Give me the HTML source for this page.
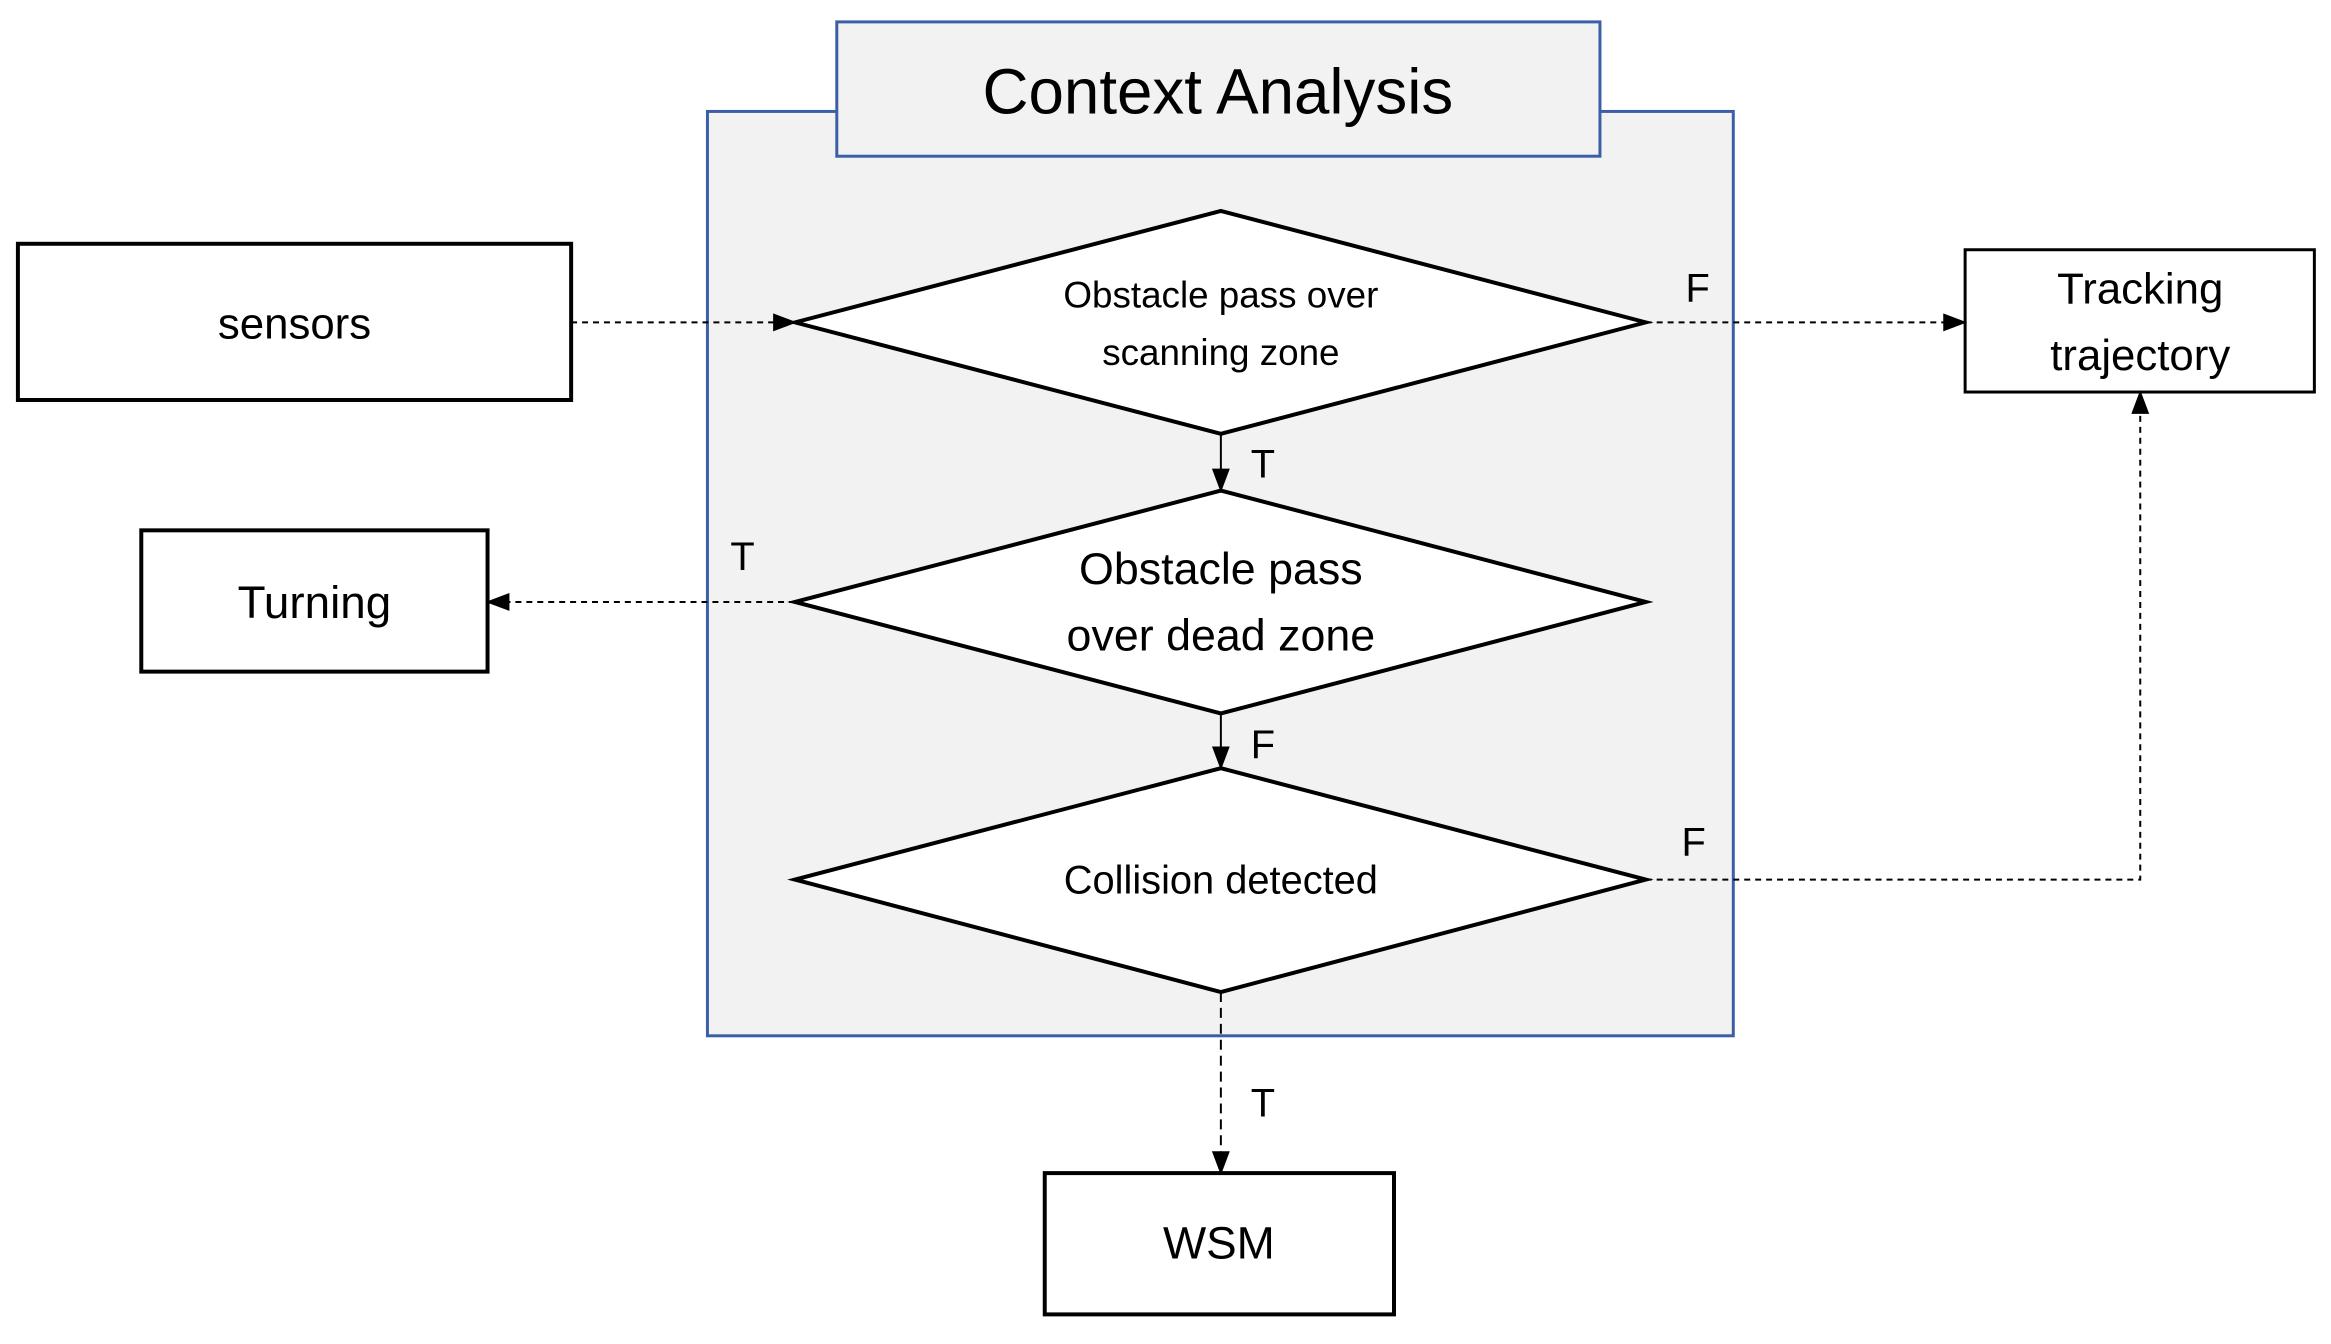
<!DOCTYPE html>
<html><head><meta charset="utf-8"><style>
html,body{margin:0;padding:0;background:#fff;}
svg{display:block;}
text{font-family:"Liberation Sans",sans-serif;fill:#000;}
</style></head><body>
<svg width="2331" height="1344" viewBox="0 0 2331 1344" xmlns="http://www.w3.org/2000/svg">
<defs>
<marker id="b" markerWidth="24" markerHeight="24" refX="22" refY="12" orient="auto" markerUnits="userSpaceOnUse" viewBox="0 0 24 24">
<path d="M0,3 L24,12 L0,21 z" fill="#000"/>
</marker>
</defs>
<g transform="scale(0.995)">
<rect x="711" y="112" width="1031" height="929" fill="#f2f2f2" stroke="#3c5ea6" stroke-width="3"/>
<rect x="841" y="22" width="767" height="135" fill="#f2f2f2" stroke="#3c5ea6" stroke-width="3"/>
<text x="1224" y="114" font-size="64" text-anchor="middle">Context Analysis</text>

<rect x="18" y="245" width="556" height="157" fill="#fff" stroke="#000" stroke-width="4"/>
<text x="296" y="340" font-size="44" text-anchor="middle">sensors</text>
<rect x="142" y="533" width="348" height="142" fill="#fff" stroke="#000" stroke-width="4"/>
<text x="316" y="621" font-size="46" text-anchor="middle">Turning</text>
<rect x="1975" y="251" width="351" height="143" fill="#fff" stroke="#000" stroke-width="3"/>
<text x="2151" y="305" font-size="44" text-anchor="middle">Tracking</text>
<text x="2151" y="372" font-size="44" text-anchor="middle">trajectory</text>
<rect x="1050" y="1179" width="351" height="142" fill="#fff" stroke="#000" stroke-width="4"/>
<text x="1225" y="1265" font-size="46" text-anchor="middle">WSM</text>

<polygon points="799,324 1227,212 1654,324 1227,436" fill="#fff" stroke="#000" stroke-width="4"/>
<text x="1227" y="309" font-size="37" text-anchor="middle">Obstacle pass over</text>
<text x="1227" y="367" font-size="37" text-anchor="middle">scanning zone</text>
<polygon points="799,605 1227,493 1654,605 1227,717" fill="#fff" stroke="#000" stroke-width="4"/>
<text x="1227" y="587" font-size="45" text-anchor="middle">Obstacle pass</text>
<text x="1227" y="654" font-size="45" text-anchor="middle">over dead zone</text>
<polygon points="799,884 1227,772 1654,884 1227,997" fill="#fff" stroke="#000" stroke-width="4"/>
<text x="1227" y="898" font-size="40" text-anchor="middle">Collision detected</text>

<g stroke="#000" stroke-width="2" fill="none">
<line x1="574" y1="324" x2="799" y2="324" stroke-dasharray="6,5" marker-end="url(#b)"/>
<line x1="1654" y1="324" x2="1975" y2="324" stroke-dasharray="6,5" marker-end="url(#b)"/>
<line x1="1227" y1="436" x2="1227" y2="493" marker-end="url(#b)"/>
<line x1="799" y1="605" x2="490" y2="605" stroke-dasharray="6,5" marker-end="url(#b)"/>
<line x1="1227" y1="717" x2="1227" y2="772" marker-end="url(#b)"/>
<polyline points="1654,884 2151,884 2151,394" stroke-dasharray="6,5" marker-end="url(#b)"/>
<line x1="1227" y1="997" x2="1227" y2="1179" stroke-dasharray="10,6" marker-end="url(#b)"/>
</g>
<g font-size="40">
<text x="1694" y="303">F</text>
<text x="1257" y="480">T</text>
<text x="734" y="573">T</text>
<text x="1257" y="762">F</text>
<text x="1690" y="860">F</text>
<text x="1257" y="1122">T</text>
</g>
</g>
</svg>
</body></html>
